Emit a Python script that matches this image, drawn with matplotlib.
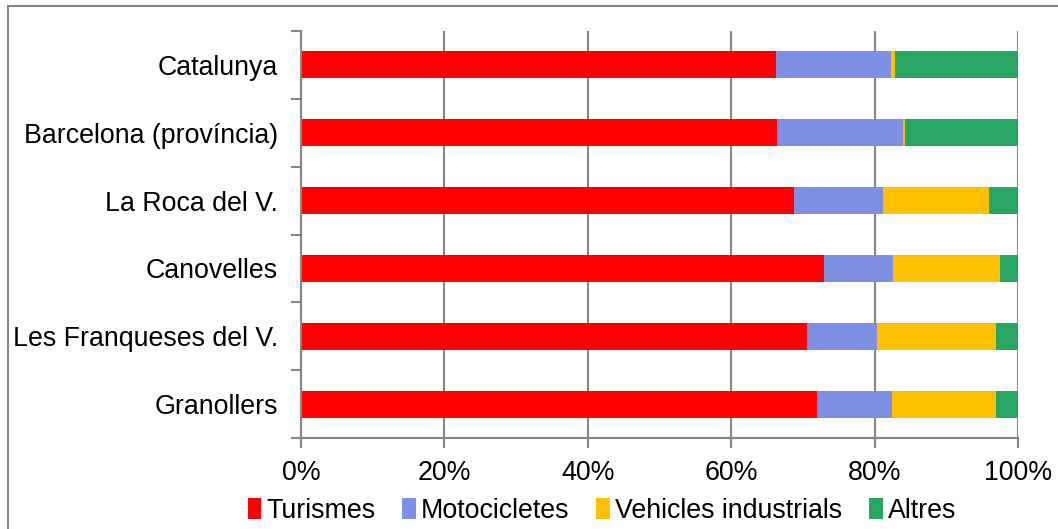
import matplotlib.pyplot as plt
from matplotlib.patches import Rectangle

plt.rcParams['font.family'] = ['Liberation Sans', 'DejaVu Sans']

# dades (percentatge sobre el total del parc de vehicles)
llocs = ['Catalunya', 'Barcelona (província)', 'La Roca del V.', 'Canovelles',
         'Les Franqueses del V.', 'Granollers']
turismes = [66.2, 66.4, 68.8, 73.0, 70.6, 72.0]
motocicletes = [16.1, 17.5, 12.4, 9.6, 9.8, 10.4]
vehicles_ind = [0.5, 0.4, 14.8, 14.9, 16.5, 14.5]
altres = [17.2, 15.7, 4.0, 2.5, 3.1, 3.1]
series = ['Turismes', 'Motocicletes', 'Vehicles industrials', 'Altres']
colors = ['#FF0000', '#7F8FE3', '#FFC000', '#27A563']

W, H = 1058, 529
fs = 19.3
fig = plt.figure(figsize=(W / 100, H / 100), dpi=100)
ax = fig.add_axes([301 / W, 1 - 438 / H, (1018 - 301) / W, (438 - 31) / H])

grey = '#868686'
pos = list(range(len(llocs)))
left = [0] * len(llocs)
for nom, vals, col in zip(series, [turismes, motocicletes, vehicles_ind, altres], colors):
    ax.barh(pos, vals, left=left, height=0.4, color=col, label=nom, zorder=3)
    left = [a + b for a, b in zip(left, vals)]

ax.set_xlim(0, 100)
ax.set_ylim(len(llocs) - 0.5, -0.5)
ax.set_xticks([0, 20, 40, 60, 80, 100])
ax.set_xticklabels(['0%', '20%', '40%', '60%', '80%', '100%'])
ax.grid(axis='x', color=grey, linewidth=1.5, zorder=0)

# marques a les fronteres de categoria, etiquetes al mig
ax.set_yticks([p - 0.5 for p in pos] + [len(llocs) - 0.5])
ax.set_yticklabels([])
ax.set_yticks(pos, minor=True)
ax.set_yticklabels(llocs, minor=True)
ax.tick_params(axis='y', which='major', length=7, width=1.5, color=grey, direction='out')
ax.tick_params(axis='y', which='minor', length=0, pad=16.5, labelsize=fs)
ax.tick_params(axis='x', length=7, width=1.5, color=grey, pad=9, labelsize=fs)

for s in ['top', 'right']:
    ax.spines[s].set_visible(False)
for s in ['left', 'bottom']:
    ax.spines[s].set_color(grey)
    ax.spines[s].set_linewidth(1.5)
    ax.spines[s].set_zorder(4)

fig.legend(loc='center', bbox_to_anchor=(602 / W, 1 - 511 / H), ncol=4, frameon=False,
           fontsize=fs, handlelength=0.5, handleheight=0.8, handletextpad=0.2,
           columnspacing=1.0)

# vora de l'àrea del gràfic
fig.patches.append(Rectangle((8 / W, -0.1), 2, 1 - 6 / H + 0.1, transform=fig.transFigure,
                             fill=False, edgecolor=grey, linewidth=1.5))

fig.savefig('out.png', dpi=100)
